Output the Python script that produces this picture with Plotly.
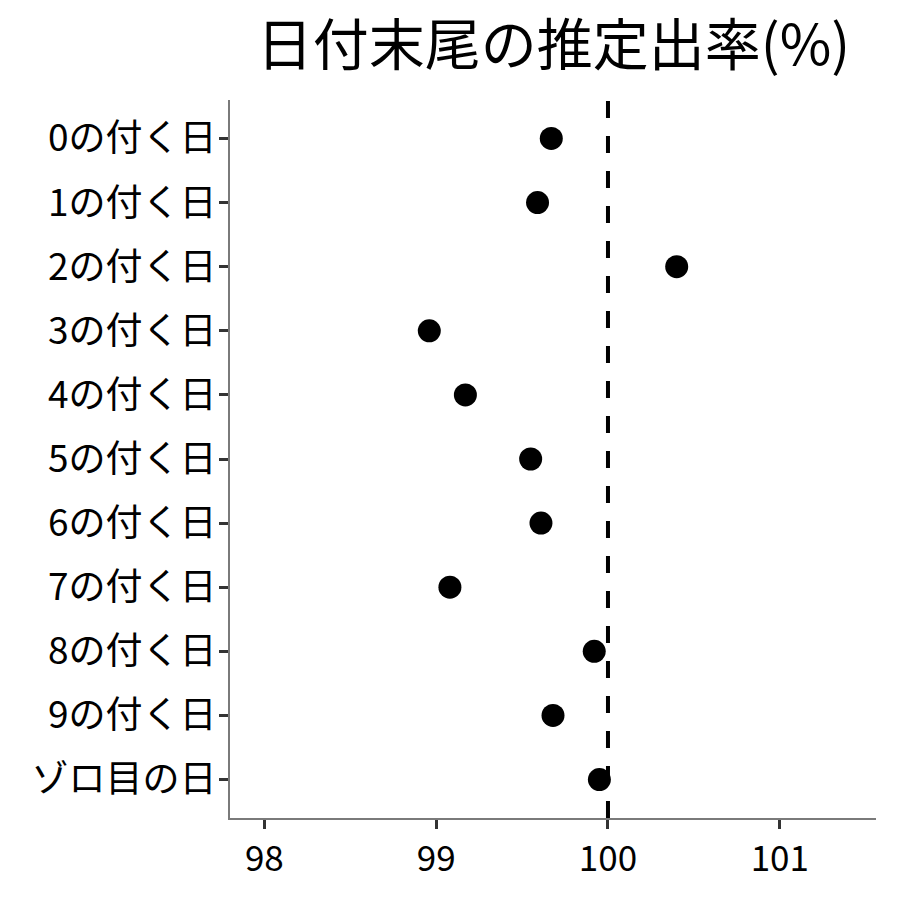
import plotly.graph_objects as go

categories = ["0の付く日", "1の付く日", "2の付く日", "3の付く日", "4の付く日",
              "5の付く日", "6の付く日", "7の付く日", "8の付く日", "9の付く日", "ゾロ目の日"]
values = [99.67, 99.59, 100.40, 98.96, 99.17, 99.55, 99.61, 99.08, 99.92, 99.68, 99.95]
x_ticks = [98, 99, 100, 101]
ref_value = 100

FONT = "Noto Sans CJK JP"

fig = go.Figure()
fig.add_trace(go.Scatter(
    x=values, y=categories, mode="markers",
    marker=dict(color="black", size=23),
    showlegend=False, cliponaxis=False,
))
fig.add_shape(type="line", xref="x", yref="paper", x0=ref_value, x1=ref_value, y0=0, y1=1,
              line=dict(color="black", width=4, dash="17px,18px"), layer="above")

fig.update_layout(
    width=900, height=900,
    margin=dict(l=230, r=24, t=100, b=82, autoexpand=False),
    paper_bgcolor="white", plot_bgcolor="white",
    font=dict(family=FONT, color="black"),
    title=dict(text="日付末尾の推定出率(%)", x=0.615, xanchor="center",
               y=0.950, yanchor="middle", font=dict(size=56, family=FONT, color="black")),
)
fig.update_xaxes(
    range=[97.80, 101.56], tickvals=x_ticks, ticktext=[str(v) for v in x_ticks],
    showgrid=False, zeroline=False, showline=True, linecolor="#7a7a7a", linewidth=2,
    ticks="outside", ticklen=9, tickwidth=3, tickcolor="#333333", automargin=False,
    tickfont=dict(size=35, family=FONT, color="black"),
)
fig.update_yaxes(
    categoryorder="array", categoryarray=categories[::-1],
    range=[-0.6, 10.6],
    showgrid=False, zeroline=False, showline=True, linecolor="#7a7a7a", linewidth=2,
    ticks="outside", ticklen=9, tickwidth=3, tickcolor="#333333", automargin=False,
    ticklabelstandoff=-5,
    tickfont=dict(size=37, family=FONT, color="black"),
)

fig.write_html("out.html", config={"displayModeBar": False},
               post_script="document.body.style.margin='0';")
